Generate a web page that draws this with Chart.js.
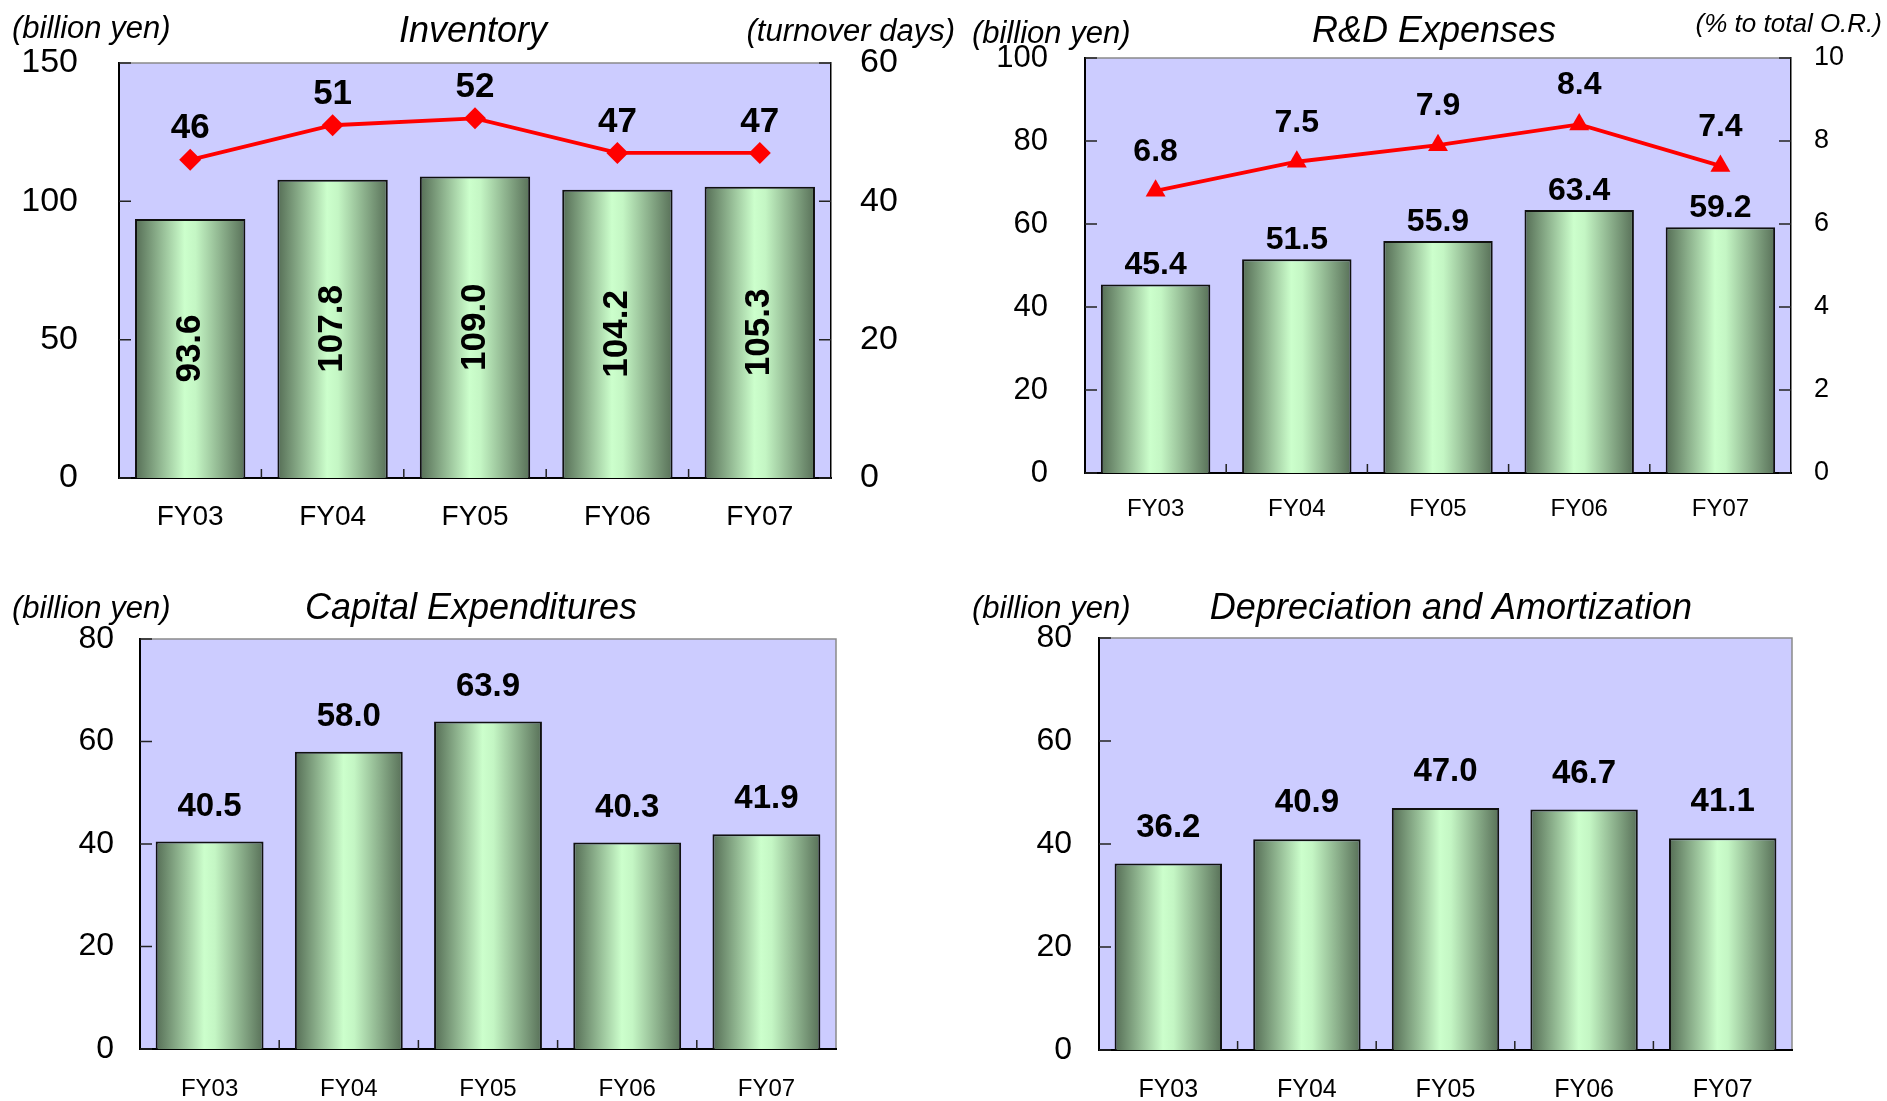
<!DOCTYPE html>
<html>
<head>
<meta charset="utf-8">
<script src="https://cdn.jsdelivr.net/npm/chart.js@4"></script>
<style>
  html, body { margin: 0; padding: 0; background: #fff; }
  body { width: 1887px; height: 1101px; position: relative; overflow: hidden; }
  canvas { position: absolute; }
</style>
</head>
<body>
<canvas id="inv" width="960" height="550" style="left:0;top:0"></canvas>
<canvas id="rnd" width="927" height="550" style="left:960px;top:0"></canvas>
<canvas id="capex" width="960" height="551" style="left:0;top:550px"></canvas>
<canvas id="dep" width="927" height="551" style="left:960px;top:550px"></canvas>
<script>
const years = ['FY03', 'FY04', 'FY05', 'FY06', 'FY07'];

const inventory = [93.6, 107.8, 109.0, 104.2, 105.3];
const turnoverDays = [46, 51, 52, 47, 47];
const rdExpenses = [45.4, 51.5, 55.9, 63.4, 59.2];
const rdRatio = [6.8, 7.5, 7.9, 8.4, 7.4];
const capex = [40.5, 58.0, 63.9, 40.3, 41.9];
const depreciation = [36.2, 40.9, 47.0, 46.7, 41.1];

const invTicks = [0, 50, 100, 150];
const daysTicks = [0, 20, 40, 60];
const rdTicks = [0, 20, 40, 60, 80, 100];
const ratioTicks = [0, 2, 4, 6, 8, 10];
const capTicks = [0, 20, 40, 60, 80];

const FONT = '"Liberation Sans", Arial, sans-serif';
const BAR_PCT = 0.775;

Chart.defaults.font.family = FONT;
Chart.defaults.color = '#000';

// horizontal "cylinder" shading for each bar
function barFill(c) {
  const chart = c.chart;
  const x = chart.scales.x;
  if (!chart.chartArea || !x || c.dataIndex === undefined) return '#a8d8a8';
  const cx = x.getPixelForValue(c.dataIndex);
  const half = (x.width / chart.data.labels.length) * BAR_PCT / 2;
  const g = chart.ctx.createLinearGradient(cx - half, 0, cx + half, 0);
  g.addColorStop(0, '#556d55');
  g.addColorStop(0.45, '#ccffcc');
  g.addColorStop(0.55, '#c4f6c4');
  g.addColorStop(1, '#587058');
  return g;
}

const decor = {
  id: 'decor',
  beforeDraw(chart, args, o) {
    const { ctx, chartArea: a } = chart;
    ctx.save();
    ctx.fillStyle = '#ccccff';
    ctx.fillRect(a.left, a.top, a.right - a.left, a.bottom - a.top);
    ctx.strokeStyle = '#8a8a8a';
    ctx.lineWidth = 1.5;
    ctx.beginPath();
    ctx.moveTo(a.left, a.top);
    ctx.lineTo(a.right, a.top);
    if (!o.rightAxis) ctx.lineTo(a.right, a.bottom);
    ctx.stroke();
    ctx.restore();
  },
  afterDatasetsDraw(chart, args, o) {
    const { ctx, chartArea: a, scales } = chart;
    ctx.save();
    // inward tick marks
    ctx.strokeStyle = '#222';
    ctx.lineWidth = 1.5;
    ctx.beginPath();
    scales.y.ticks.forEach(t => {
      const py = scales.y.getPixelForValue(t.value);
      ctx.moveTo(a.left, py); ctx.lineTo(a.left + 12, py);
    });
    if (scales.y1) {
      scales.y1.ticks.forEach(t => {
        const py = scales.y1.getPixelForValue(t.value);
        ctx.moveTo(a.right - 12, py); ctx.lineTo(a.right, py);
      });
    }
    const n = chart.data.labels.length;
    for (let i = 0; i < n - 1; i++) {
      const px = (scales.x.getPixelForValue(i) + scales.x.getPixelForValue(i + 1)) / 2;
      ctx.moveTo(px, a.bottom); ctx.lineTo(px, a.bottom - 9);
    }
    ctx.stroke();

    // value labels
    ctx.fillStyle = '#000';
    ctx.textAlign = 'center';
    ctx.textBaseline = 'middle';
    o.labels.forEach((lab, di) => {
      const meta = chart.getDatasetMeta(di);
      const data = chart.data.datasets[di].data;
      ctx.font = 'bold ' + lab.size + 'px ' + FONT;
      meta.data.forEach((el, i) => {
        const txt = data[i].toFixed(lab.digits);
        if (lab.rotate) {
          ctx.save();
          ctx.translate(el.x, (el.y + el.base) / 2);
          ctx.rotate(-Math.PI / 2);
          ctx.fillText(txt, 0, 0);
          ctx.restore();
        } else {
          ctx.fillText(txt, el.x, el.y - lab.offset);
        }
      });
    });
    ctx.restore();
  },
  afterDraw(chart, args, o) {
    const ctx = chart.ctx;
    ctx.save();
    ctx.fillStyle = '#000';
    ctx.textBaseline = 'alphabetic';
    o.texts.forEach(t => {
      ctx.font = 'italic ' + t.size + 'px ' + FONT;
      ctx.textAlign = t.align;
      ctx.fillText(t.text, t.x, t.y);
    });
    ctx.restore();
  }
};

function makeChart(id, opt) {
  const datasets = [{
    type: 'bar',
    data: opt.bars,
    order: 2,
    yAxisID: 'y',
    backgroundColor: barFill,
    borderColor: '#111',
    borderWidth: { top: 2, left: 2, right: 2, bottom: 0 },
    barPercentage: BAR_PCT,
    categoryPercentage: 1
  }];
  if (opt.line) {
    datasets.push({
      type: 'line',
      data: opt.line,
      order: 1,
      yAxisID: 'y1',
      borderColor: '#ff0000',
      borderWidth: 3.8,
      pointStyle: opt.marker,
      pointRadius: opt.markerSize,
      pointBackgroundColor: '#ff0000',
      pointBorderWidth: 0,
      fill: false,
      tension: 0
    });
  }
  const yT = opt.yTicks;
  const scales = {
    x: {
      type: 'category',
      offset: true,
      grid: { display: false, drawTicks: false },
      border: { color: '#000', width: 2 },
      ticks: { font: { size: opt.xFont }, padding: opt.xPad, maxRotation: 0 },
      afterFit: s => { s.height = opt.xH; }
    },
    y: {
      position: 'left',
      min: yT[0], max: yT[yT.length - 1],
      grid: { display: false, drawTicks: false },
      border: { color: '#000', width: 2 },
      ticks: { stepSize: yT[1] - yT[0], font: { size: opt.yFont }, padding: opt.yPad },
      afterFit: s => { s.width = opt.yW; }
    }
  };
  if (opt.line) {
    const rT = opt.rTicks;
    scales.y1 = {
      position: 'right',
      min: rT[0], max: rT[rT.length - 1],
      grid: { display: false, drawTicks: false },
      border: { color: '#000', width: 1.5 },
      ticks: { stepSize: rT[1] - rT[0], font: { size: opt.rFont }, padding: opt.rPad },
      afterFit: s => { s.width = opt.rW; }
    };
  }
  const labels = [{ size: opt.barLabelSize, digits: 1, offset: opt.barLabelOffset, rotate: !!opt.rotateBarLabels }];
  if (opt.line) labels.push({ size: opt.lineLabelSize, digits: opt.lineDigits, offset: opt.lineLabelOffset, rotate: false });

  return new Chart(document.getElementById(id), {
    type: 'bar',
    data: { labels: years, datasets },
    options: {
      responsive: false,
      animation: false,
      layout: { padding: { top: opt.padTop, left: 0, right: opt.padRight || 0, bottom: 0 } },
      scales,
      plugins: {
        legend: { display: false },
        tooltip: { enabled: false },
        decor: { rightAxis: !!opt.line, labels, texts: opt.texts }
      }
    },
    plugins: [decor]
  });
}

makeChart('inv', {
  bars: inventory, line: turnoverDays, marker: 'rectRot', markerSize: 11,
  yTicks: invTicks, rTicks: daysTicks,
  padTop: 63, yW: 119, rW: 129, xH: 72,
  yFont: 34, yPad: 41, rFont: 34, rPad: 29, xFont: 28, xPad: 22,
  barLabelSize: 35, rotateBarLabels: true,
  lineLabelSize: 35, lineDigits: 0, lineLabelOffset: 31,
  texts: [
    { text: 'Inventory', x: 473, y: 42, size: 36, align: 'center' },
    { text: '(billion yen)', x: 12, y: 38, size: 31, align: 'left' },
    { text: '(turnover days)', x: 955, y: 41, size: 31, align: 'right' }
  ]
});

makeChart('rnd', {
  bars: rdExpenses, line: rdRatio, marker: 'triangle', markerSize: 11.5,
  yTicks: rdTicks, rTicks: ratioTicks,
  padTop: 58, yW: 125, rW: 96, xH: 77,
  yFont: 31, yPad: 37, rFont: 27, rPad: 23, xFont: 24, xPad: 22,
  barLabelSize: 32, barLabelOffset: 19,
  lineLabelSize: 32, lineDigits: 1, lineLabelOffset: 39,
  texts: [
    { text: 'R&D Expenses', x: 474, y: 42, size: 36, align: 'center' },
    { text: '(billion yen)', x: 12, y: 43, size: 31, align: 'left' },
    { text: '(% to total O.R.)', x: 922, y: 32, size: 26, align: 'right' }
  ]
});

makeChart('capex', {
  bars: capex,
  yTicks: capTicks,
  padTop: 89, padRight: 124, yW: 140, xH: 52,
  yFont: 32, yPad: 26, xFont: 24, xPad: 26,
  barLabelSize: 33, barLabelOffset: 35,
  texts: [
    { text: 'Capital Expenditures', x: 471, y: 69, size: 36, align: 'center' },
    { text: '(billion yen)', x: 12, y: 68, size: 31, align: 'left' }
  ]
});

makeChart('dep', {
  bars: depreciation,
  yTicks: capTicks,
  padTop: 88, padRight: 95, yW: 139, xH: 51,
  yFont: 32, yPad: 27, xFont: 25, xPad: 25,
  barLabelSize: 33, barLabelOffset: 36,
  texts: [
    { text: 'Depreciation and Amortization', x: 491, y: 69, size: 36, align: 'center' },
    { text: '(billion yen)', x: 12, y: 68, size: 31, align: 'left' }
  ]
});
</script>
</body>
</html>
